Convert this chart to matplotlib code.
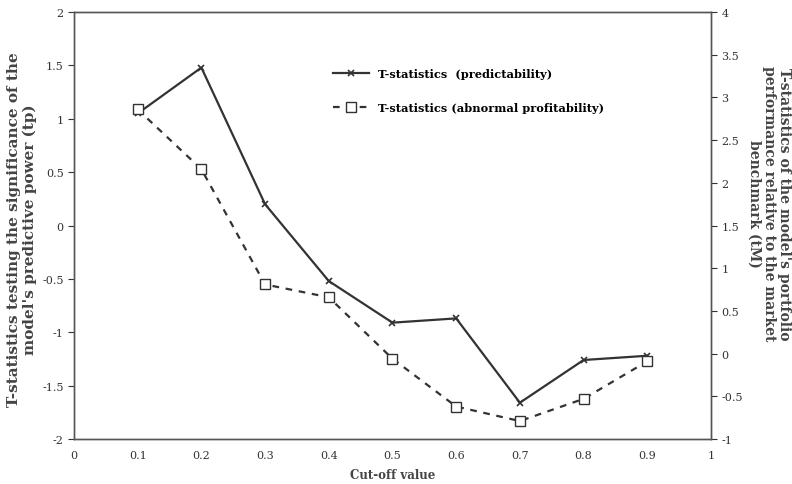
import numpy as np
import matplotlib.pyplot as plt

plt.rcParams['font.family'] = ['DejaVu Serif']

cutoff = [0.1, 0.2, 0.3, 0.4, 0.5, 0.6, 0.7, 0.8, 0.9]
t_pred = [1.05, 1.48, 0.20, -0.52, -0.91, -0.87, -1.66, -1.26, -1.22]
t_abn = [2.86, 2.16, 0.81, 0.66, -0.06, -0.62, -0.79, -0.53, -0.09]

fig = plt.figure(figsize=(7.92, 4.85), dpi=100)
ax = fig.add_axes([0.0934, 0.0928, 0.8043, 0.8802])
ax2 = ax.twinx()

l1, = ax.plot(cutoff, t_pred, color="#333333", lw=1.6, marker="x", ms=4, mew=1.2,
              label="T-statistics  (predictability)")
l2, = ax2.plot(cutoff, t_abn, color="#333333", lw=1.6, ls=(0, (3, 3)), marker="s", ms=7,
               mfc="white", mec="#333333", mew=1.0,
               label="T-statistics (abnormal profitability)")

ax.set_xlim(0, 1)
ax.set_ylim(-2, 2)
ax2.set_ylim(-1, 4)
ax.set_xticks(np.arange(0, 1.01, 0.1))
ax.set_xticklabels(["0", "0.1", "0.2", "0.3", "0.4", "0.5", "0.6", "0.7", "0.8", "0.9", "1"])
ax.set_yticks(np.arange(-2, 2.01, 0.5))
ax.set_yticklabels(["-2", "-1.5", "-1", "-0.5", "0", "0.5", "1", "1.5", "2"])
ax2.set_yticks(np.arange(-1, 4.01, 0.5))
ax2.set_yticklabels(["-1", "-0.5", "0", "0.5", "1", "1.5", "2", "2.5", "3", "3.5", "4"])

for a in (ax, ax2):
    for s in a.spines.values():
        s.set_color("#555555")
        s.set_linewidth(1.0)
    a.tick_params(labelsize=8, colors="#333333", length=4, width=0.8)
ax.tick_params(axis="x", length=0, pad=8)

ax.set_xlabel("Cut-off value", fontsize=8.5, fontweight="bold", color="#444444", labelpad=6)
fig.text(22 / 792, 0.527,
         "T-statistics testing the significance of the\nmodel's predictive power (tp)",
         fontsize=11, fontweight="bold", color="#444444", rotation=90,
         ha="center", va="center", multialignment="center", linespacing=1.15)
fig.text(769 / 792, 0.579,
         "T-statistics of the model's portfolio\nperformance relative to the market\nbenchmark (tM)",
         fontsize=10, fontweight="bold", color="#444444", rotation=270,
         ha="center", va="center", multialignment="center", linespacing=1.1)

ax.legend(handles=[l1, l2], loc="upper left", bbox_to_anchor=(0.39, 0.893), frameon=False,
          prop={"weight": "bold", "size": 8.2}, labelspacing=2.0, handlelength=3.2)

plt.savefig("out.png")
